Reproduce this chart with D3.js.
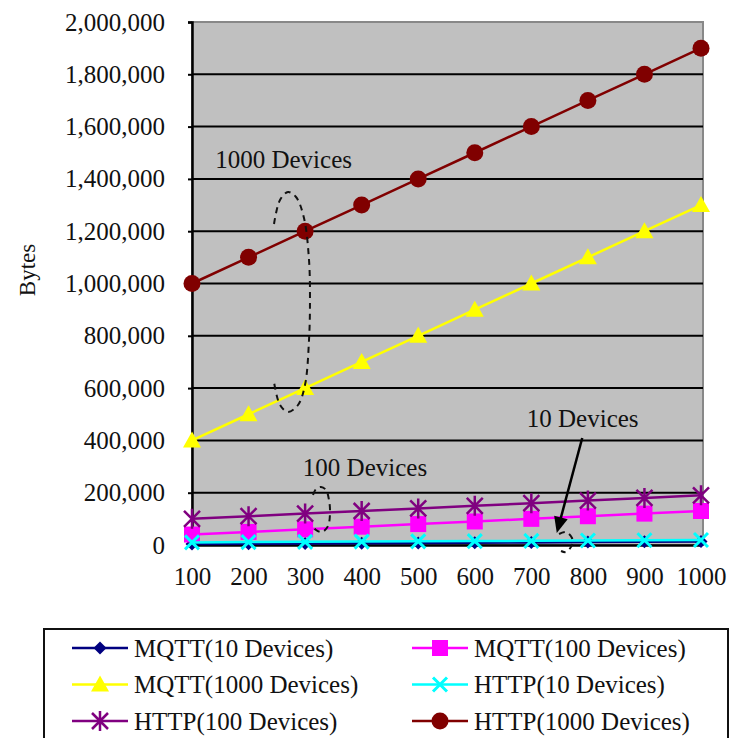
<!DOCTYPE html>
<html><head><meta charset="utf-8">
<script src="https://cdn.jsdelivr.net/npm/d3@7"></script>
<style>body{margin:0;background:#fff}svg{display:block}text{font-family:"Liberation Serif","Times New Roman",serif;fill:#111}</style>
</head><body>
<script>
const devices = [100,200,300,400,500,600,700,800,900,1000];
const yTicks = [0,200000,400000,600000,800000,1000000,1200000,1400000,1600000,1800000,2000000];
const mqtt10   = [4000,5000,6000,7000,8000,9000,10000,11000,12000,13000];
const mqtt100  = [40000,50000,60000,70000,80000,90000,100000,110000,120000,130000];
const mqtt1000 = [400000,500000,600000,700000,800000,900000,1000000,1100000,1200000,1300000];
const http10   = [10000,11000,12000,13000,14000,15000,16000,17000,18000,19000];
const http100  = [100000,110000,120000,130000,140000,150000,160000,170000,180000,190000];
const http1000 = [1000000,1100000,1200000,1300000,1400000,1500000,1600000,1700000,1800000,1900000];
const seriesNames = ["MQTT(10 Devices)","MQTT(100 Devices)","MQTT(1000 Devices)","HTTP(10 Devices)","HTTP(100 Devices)","HTTP(1000 Devices)"];
const seriesValues = [mqtt10, mqtt100, mqtt1000, http10, http100, http1000];
const seriesColors = ["#000080","#ff00ff","#ffff00","#00ffff","#800080","#800000"];
const seriesMarkers = ["diamond","square","triangle","x","star","circle"];
// annotations (data space)
const annoTexts = [["1000 Devices",141,1440000],["100 Devices",296,264000],["10 Devices",692,451000]];
const loop1000 = [[245,1227500],[255.6,1319300],[269.7,1349900],[283.9,1330800],[298,1250500],[306.9,1089900],[308.6,936900],[306.9,783900],[299.8,611900],[287.4,535400],[269.7,508600],[255.6,535400],[245,623300]];
const loop100 = [[314,191200],[319.3,214200],[328.1,221800],[337,210300],[342.2,172100],[344,126200],[340.5,72700],[329.9,49700],[319.3,57400],[314,72700]];
const loop10 = [[749,42100],[761.3,49700],[771.9,26800],[771.9,0],[761.3,-26800],[752.5,-22900]];
const arrow10 = [[790,409000],[745,46000]];

const W=731,H=738;
const svg=d3.select("body").append("svg").attr("width",W).attr("height",H);
const x=d3.scaleLinear().domain([100,1000]).range([192,701]);
const y=d3.scaleLinear().domain([0,2000000]).range([545,22]);
const fmt=d3.format(",");
const FS="25px";

// plot background
svg.append("rect").attr("x",x(100)).attr("y",y(2000000)).attr("width",x(1000)-x(100)+2).attr("height",y(0)-y(2000000)).attr("fill","#c0c0c0").attr("stroke","#888").attr("stroke-width",2);
// gridlines
svg.append("g").selectAll("line").data(yTicks.filter(d=>d>0&&d<2000000)).join("line")
  .attr("x1",x(100)).attr("x2",x(1000)+2).attr("y1",d=>y(d)).attr("y2",d=>y(d)).attr("stroke","#000").attr("stroke-width",2);
// axes
const yAxis=d3.axisLeft(y).tickValues(yTicks).tickFormat(fmt).tickSize(4).tickPadding(23);
const gy=svg.append("g").attr("transform",`translate(${x(100)},0)`).call(yAxis);
gy.select(".domain").attr("stroke","#000").attr("stroke-width",2.5);
gy.selectAll(".tick line").attr("stroke","#000").attr("stroke-width",2);
gy.selectAll("text").style("font-size",FS).attr("font-family","Liberation Serif").attr("fill","#111");
const xAxis=d3.axisBottom(x).tickValues(devices).tickFormat(d3.format("d")).tickSize(0).tickPadding(22);
const gx=svg.append("g").attr("transform",`translate(0,${y(0)})`).call(xAxis);
gx.select(".domain").attr("stroke","#000").attr("stroke-width",2.5);
gx.selectAll("text").style("font-size",FS).attr("font-family","Liberation Serif").attr("fill","#111");
svg.append("text").attr("transform","translate(35,270) rotate(-90)").attr("text-anchor","middle").style("font-size","23px").text("Bytes");

function marker(g,type,color,cx,cy){
  const s=g.append("g").attr("transform",`translate(${cx},${cy})`);
  if(type==="diamond") s.append("path").attr("d","M0,-6.5L6.5,0L0,6.5L-6.5,0Z").attr("fill",color);
  else if(type==="square") s.append("rect").attr("x",-8).attr("y",-8).attr("width",16).attr("height",16).attr("fill",color);
  else if(type==="triangle") s.append("path").attr("d","M0,-9L9,7L-9,7Z").attr("fill",color);
  else if(type==="x") s.append("path").attr("d","M-7,-7L7,7M-7,7L7,-7").attr("stroke",color).attr("stroke-width",3);
  else if(type==="star") s.append("path").attr("d","M-8,-8L8,8M-8,8L8,-8M0,-10L0,10").attr("stroke",color).attr("stroke-width",2.5);
  else if(type==="circle") s.append("circle").attr("r",8.5).attr("fill",color);
}
const line=d3.line().x((d,i)=>x(devices[i])).y(d=>y(d));
seriesValues.forEach((vals,k)=>{
  const g=svg.append("g");
  g.append("path").attr("d",line(vals)).attr("fill","none").attr("stroke",seriesColors[k]).attr("stroke-width",2.5);
  vals.forEach((v,i)=>marker(g,seriesMarkers[k],seriesColors[k],x(devices[i]),y(v)));
});

// annotations
annoTexts.forEach(([t,dx,dy])=>svg.append("text").attr("x",x(dx)).attr("y",y(dy)).style("font-size",FS).text(t));
const loopLine=d3.line().x(d=>x(d[0])).y(d=>y(d[1])).curve(d3.curveCatmullRom);
[loop1000,loop100,loop10].forEach(pts=>svg.append("path").attr("d",loopLine(pts)).attr("fill","none").attr("stroke","#111").attr("stroke-width",2).attr("stroke-dasharray","6,5"));
const ax1=x(arrow10[0][0]),ay1=y(arrow10[0][1]),ax2=x(arrow10[1][0]),ay2=y(arrow10[1][1]);
const ang=Math.atan2(ay2-ay1,ax2-ax1);
svg.append("line").attr("x1",ax1).attr("y1",ay1).attr("x2",ax2-12*Math.cos(ang)).attr("y2",ay2-12*Math.sin(ang)).attr("stroke","#000").attr("stroke-width",2.5);
svg.append("path").attr("transform",`translate(${ax2},${ay2}) rotate(${ang*180/Math.PI})`).attr("d","M0,0L-16,-7L-16,7Z").attr("fill","#000");

// legend
svg.append("rect").attr("x",44).attr("y",629).attr("width",684).attr("height",130).attr("fill","#fff").attr("stroke","#111").attr("stroke-width",2);
seriesNames.forEach((name,k)=>{
  const col=k%2,row=Math.floor(k/2);
  const lx=col===0?72:412, ly=648+row*36.5;
  const g=svg.append("g");
  g.append("line").attr("x1",lx).attr("x2",lx+56).attr("y1",ly).attr("y2",ly).attr("stroke",seriesColors[k]).attr("stroke-width",2.5);
  marker(g,seriesMarkers[k],seriesColors[k],lx+28,ly);
  g.append("text").attr("x",lx+62).attr("y",ly).attr("dy","0.35em").style("font-size",FS).text(name);
});
</script>
</body></html>
